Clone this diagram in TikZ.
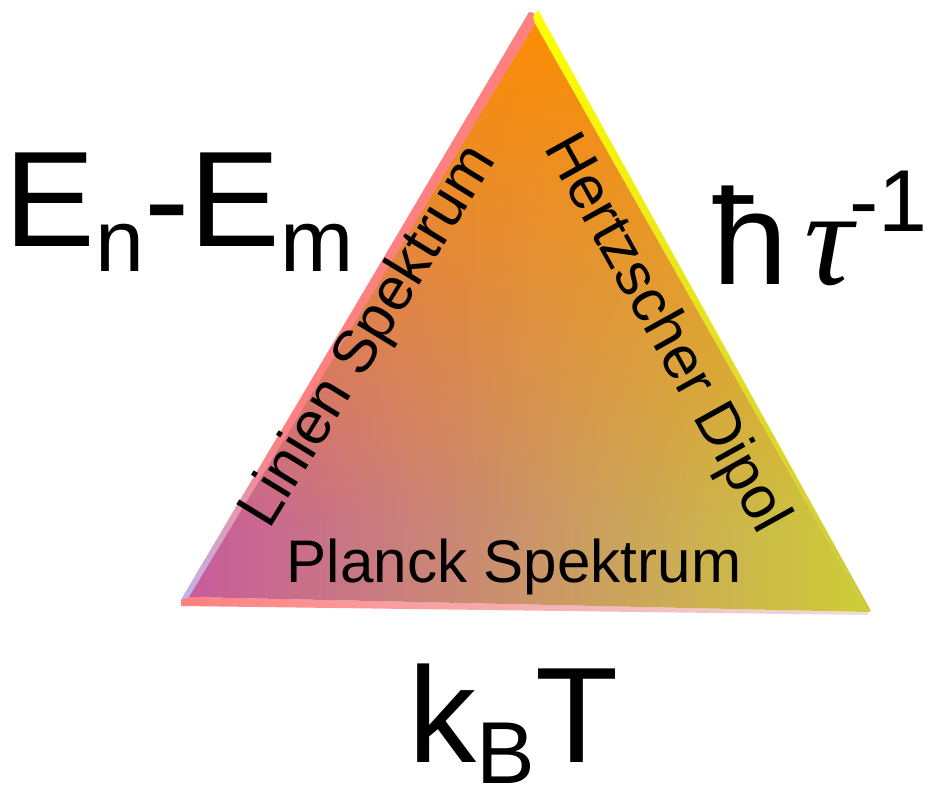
\documentclass[tikz,border=0pt]{standalone}
\usepackage{fontspec}
\setmainfont{Liberation Sans}
\newfontfamily\serifgr{Liberation Serif}
\usetikzlibrary{fadings}
\definecolor{orangeC}{RGB}{252,140,5}
\definecolor{magC}{RGB}{200,92,155}
\definecolor{lavC}{RGB}{168,135,190}
\definecolor{olvC}{RGB}{205,205,55}
\definecolor{pinkC}{RGB}{255,128,128}
\definecolor{pinkL}{RGB}{238,220,222}
\definecolor{lavL}{RGB}{185,185,245}
\definecolor{yelC}{RGB}{255,255,0}
\definecolor{yelB}{RGB}{205,200,60}
\tikzfading[name=topfade, top color=transparent!0, bottom color=transparent!100]
\newcommand\bigsz{\fontsize{38.7}{46}\selectfont}
\newcommand\smallsz{\fontsize{25}{30}\selectfont}
\newcommand\midsz{\fontsize{17.1}{20}\selectfont}
\tikzset{
  bigtxt/.style={inner sep=0pt, font=\bigsz, text=black},
  midtxt/.style={inner sep=0pt, font=\midsz, text=black}
}
\begin{document}
\begin{tikzpicture}[x=0.01cm,y=0.01cm]
\useasboundingbox (0,0) rectangle (931,-792);
% corners
\coordinate (A) at (535,-24);
\coordinate (B) at (189,-597);
\coordinate (C) at (868,-612);
\coordinate (P1) at (529,-12);
\coordinate (P0) at (534,-13);
\coordinate (P2) at (181,-600);
\coordinate (P3) at (181,-606);
\coordinate (C2) at (868,-615);
\coordinate (Y1) at (538,-10);
\coordinate (Y0) at (533,-17);
\coordinate (Y2) at (871,-611);
% left band
\begin{scope}
  \clip (P1) -- (P0) -- (A) -- (B) -- (P2) -- cycle;
  \fill[pinkC] (170,0) rectangle (540,-610);
  \shade[top color=pinkC, bottom color=lavL] (170,-440) rectangle (540,-610);
\end{scope}
% right band
\shade[top color=yelC, bottom color=yelB] (Y1) -- (Y2) -- (C) -- (A) -- (Y0) -- cycle;
% bottom band
\shade[left color=pinkC, middle color={rgb,255:red,255;green,175;blue,175}, right color=pinkL] (P2) -- (B) -- (C) -- (C2) -- (P3) -- cycle;
% main fill
\shade[left color=magC, middle color=lavC, right color=olvC] (A) -- (B) -- (C) -- cycle;
\begin{scope}
  \clip (A) -- (B) -- (C) -- cycle;
  \fill[orangeC, path fading=topfade] (180,-24) rectangle (870,-525);
\end{scope}
% labels
\node[bigtxt, anchor=base west] (enm) at (4,-247) {E\raisebox{-7.1pt}{\smallsz n}-E\raisebox{-7.1pt}{\smallsz m}};
\node[bigtxt, anchor=base west] (kbt) at (408,-762) {k\raisebox{-6pt}{\smallsz B}T};
\node[bigtxt, anchor=base west] (htau) at (712,-285) {ħ\kern4.5pt{\serifgr\itshape τ}\kern-1pt\raisebox{15.1pt}{\smallsz -1}};
\node[midtxt, anchor=base, rotate=58.5] (linien) at (383,-345) {Linien Spektrum};
\node[midtxt, anchor=base, rotate=-61] (hertz) at (651,-342) {Hertzscher Dipol};
\node[midtxt, anchor=base] (planck) at (514,-583) {Planck Spektrum};
\end{tikzpicture}
\end{document}
